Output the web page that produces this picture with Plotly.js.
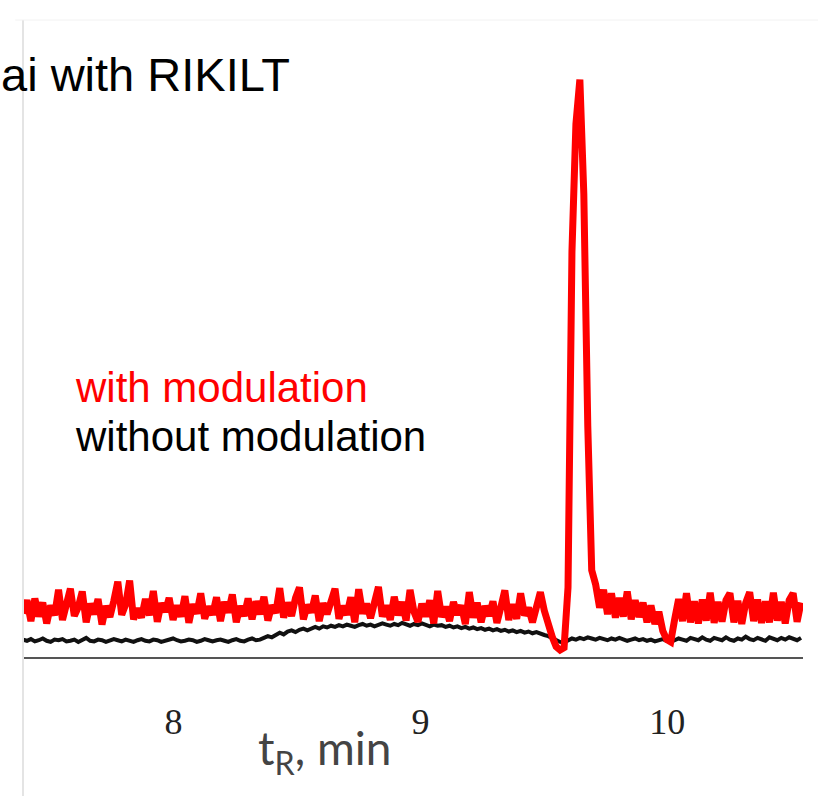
<!DOCTYPE html>
<html>
<head>
<meta charset="utf-8">
<script src="https://cdn.plot.ly/plotly-3.0.1.min.js"></script>
<style>html,body{margin:0;padding:0;background:#fff;}#chart{width:818px;height:796px;}</style>
</head>
<body>
<div id="chart"></div>
<script>
// Retention time sampling (min)
const tStart = 7.39;
const tStep = 0.016;

// Detector signal (arbitrary units), with modulation
const withModulation = [
  7.5, 9.8, 6.2, 10.1, 7.0, 9.4, 5.8, 8.9, 7.2, 11.6,
  6.4, 9.0, 11.8, 7.1, 8.6, 11.3, 6.0, 9.2, 7.4, 10.0,
  5.6, 8.8, 6.9, 9.7, 13.0, 7.3, 9.1, 13.2, 6.5, 8.4,
  6.8, 10.0, 7.2, 11.4, 6.1, 9.3, 7.8, 10.2, 6.4, 8.9,
  7.0, 10.5, 5.9, 9.1, 7.5, 11.0, 6.6, 8.7, 7.3, 10.3,
  6.2, 9.5, 7.7, 10.8, 6.0, 8.8, 7.1, 10.1, 6.5, 9.6,
  7.4, 10.4, 6.3, 8.9, 7.6, 11.9, 6.8, 9.4, 7.1, 10.2,
  12.0, 6.5, 9.0, 7.7, 10.6, 6.2, 9.3, 7.4, 10.0, 11.8,
  6.6, 8.8, 7.3, 10.3, 6.0, 11.7, 7.5, 9.2, 6.7, 10.1,
  12.1, 7.0, 8.9, 6.4, 10.4, 7.2, 9.5, 6.3, 11.6, 7.8,
  6.1, 9.2, 7.0, 9.8, 5.8, 11.4, 6.9, 8.7, 6.2, 9.5,
  7.3, 8.9, 5.7, 11.2, 6.8, 9.4, 6.0, 8.8, 7.1, 9.6,
  5.9, 8.6, 11.5, 6.4, 9.1, 6.6, 11.0, 7.2, 8.5, 6.0,
  9.3, 11.2, 8.0, 5.5, 3.5, 1.8, 1.2, 1.6,
  12.0, 70.0, 92.0, 99.7, 80.0, 40.0, 15.0, 12.5,
  8.5, 11.6, 7.4, 11.0, 6.8, 10.2, 7.0, 11.3, 6.5, 9.8, 6.9, 9.4,
  6.0, 8.9, 5.7, 7.8, 4.5, 3.0, 2.6, 6.5, 10.0,
  6.2, 11.0, 6.0, 9.6, 5.8, 9.9, 6.3, 11.1, 5.9, 9.5,
  6.1, 9.8, 11.0, 6.0, 9.7, 5.7, 9.4, 11.2, 6.2, 9.9,
  5.9, 9.6, 6.0, 11.1, 6.3, 9.5, 5.8, 9.8, 11.0, 6.1, 9.4
];

// Detector signal (arbitrary units), without modulation
const withoutModulation = [
  3.0, 2.8, 3.1, 2.7, 2.9, 3.2, 2.8, 2.6, 3.0, 2.9,
  3.1, 2.7, 2.8, 3.0, 2.6, 2.9, 3.3, 2.8, 2.7, 3.0,
  2.9, 2.6, 2.8, 3.1, 2.9, 2.7, 3.0, 2.8, 2.6, 2.9,
  3.1, 2.8, 2.7, 3.0, 2.9, 2.6, 2.8, 3.0, 3.2, 2.9,
  2.7, 2.8, 3.0, 2.9, 2.6, 2.8, 3.1, 2.9, 2.7, 2.9,
  3.0, 2.8, 2.6, 2.9, 3.1, 2.8, 2.7, 3.0, 3.2, 2.9,
  3.0, 3.3, 3.6, 3.4, 3.9, 4.2, 3.9, 4.4, 4.6, 4.3,
  4.7, 4.9, 4.6, 5.0, 5.2, 4.9, 5.3, 5.1, 5.4, 5.2,
  5.5, 5.3, 5.6, 5.4, 5.2, 5.5, 5.7, 5.4, 5.6, 5.3,
  5.5, 5.8, 5.6, 5.4, 5.7, 5.5, 5.9, 5.6, 5.4, 5.7,
  5.5, 5.8, 5.6, 5.3, 5.6, 5.4, 5.5, 5.2, 5.4, 5.1,
  5.3, 5.0, 5.2, 4.9, 5.1, 4.8, 5.0, 4.7, 4.9, 4.6,
  4.8, 4.5, 4.7, 4.4, 4.6, 4.3, 4.5, 4.2, 4.4, 4.1,
  4.3, 4.0, 3.8, 3.6, 3.3, 3.0, 2.6, 2.5, 2.9, 3.2,
  3.0, 3.3, 3.1, 3.4, 3.2, 3.0, 3.3, 3.1, 2.9, 3.2,
  3.0, 3.3, 3.1, 2.8, 3.0, 3.2, 2.9, 3.1, 2.8, 3.0,
  2.7, 2.9, 3.1, 2.8, 2.6, 2.9, 3.2, 3.0, 2.8, 3.3,
  3.1, 2.9, 3.4, 3.0, 2.8, 3.3, 3.1, 2.9, 3.4, 3.0,
  2.8, 3.2, 3.0, 3.5, 3.1, 2.9, 3.3, 3.0, 2.8, 3.4,
  3.1, 2.9, 3.3, 3.0, 3.4, 3.2, 2.9, 3.3
];

// Axis ticks
const tickValues = [8, 9, 10];
const tickLabels = ['8', '9', '10'];

// Texts
const titleText = 'ai with RIKILT';
const seriesNames = ['with modulation', 'without modulation'];
const xTitle = 't<sub>R</sub>, min';

const traces = [
  {
    type: 'scatter', mode: 'lines', name: seriesNames[1],
    x0: tStart, dx: tStep, y: withoutModulation,
    line: {color: '#111111', width: 4},
    hoverinfo: 'skip'
  },
  {
    type: 'scatter', mode: 'lines', name: seriesNames[0],
    x0: tStart, dx: tStep, y: withModulation,
    line: {color: '#ff0000', width: 7},
    hoverinfo: 'skip'
  }
];

const layout = {
  width: 818, height: 796,
  margin: {l: 23, r: 15, t: 20, b: 139},
  paper_bgcolor: '#ffffff', plot_bgcolor: '#ffffff',
  showlegend: false,
  xaxis: {
    range: [7.39, 10.55],
    tickvals: tickValues, ticktext: tickLabels,
    ticks: '', showgrid: false, zeroline: false,
    showline: true, linecolor: '#555555', linewidth: 1.5,
    tickfont: {family: 'Liberation Serif, serif', size: 36, color: '#222222'},
    ticklabelstandoff: 32
  },
  yaxis: {range: [0, 110], visible: false, showgrid: false, zeroline: false},
  shapes: [
    {type: 'line', xref: 'paper', yref: 'paper', x0: 0, x1: 0, y0: -0.22, y1: 1.0,
     line: {color: '#e4e4e4', width: 2}},
    {type: 'line', xref: 'paper', yref: 'paper', x0: -0.01, x1: 1.02, y0: 1.0, y1: 1.0,
     line: {color: '#f2f2f2', width: 1}}
  ],
  annotations: [
    {text: titleText, xref: 'paper', yref: 'paper', x: -0.031, y: 0.915,
     xanchor: 'left', yanchor: 'middle', showarrow: false,
     font: {family: 'Liberation Sans, Arial, sans-serif', size: 47, color: '#000000'}},
    {text: seriesNames[0], xref: 'paper', yref: 'paper', x: 0.0645, y: 0.4223,
     xanchor: 'left', yanchor: 'middle', showarrow: false,
     font: {family: 'Liberation Sans, Arial, sans-serif', size: 42, color: '#ff0000'}},
    {text: seriesNames[1], xref: 'paper', yref: 'paper', x: 0.0645, y: 0.3454,
     xanchor: 'left', yanchor: 'middle', showarrow: false,
     font: {family: 'Liberation Sans, Arial, sans-serif', size: 42, color: '#000000'}},
    {text: xTitle, xref: 'paper', yref: 'paper', x: 0.387, y: -0.148,
     xanchor: 'center', yanchor: 'middle', showarrow: false,
     font: {family: 'Lato, sans-serif', size: 46, color: '#444444'}}
  ]
};

Plotly.newPlot('chart', traces, layout, {displayModeBar: false, staticPlot: true});
</script>
</body>
</html>
